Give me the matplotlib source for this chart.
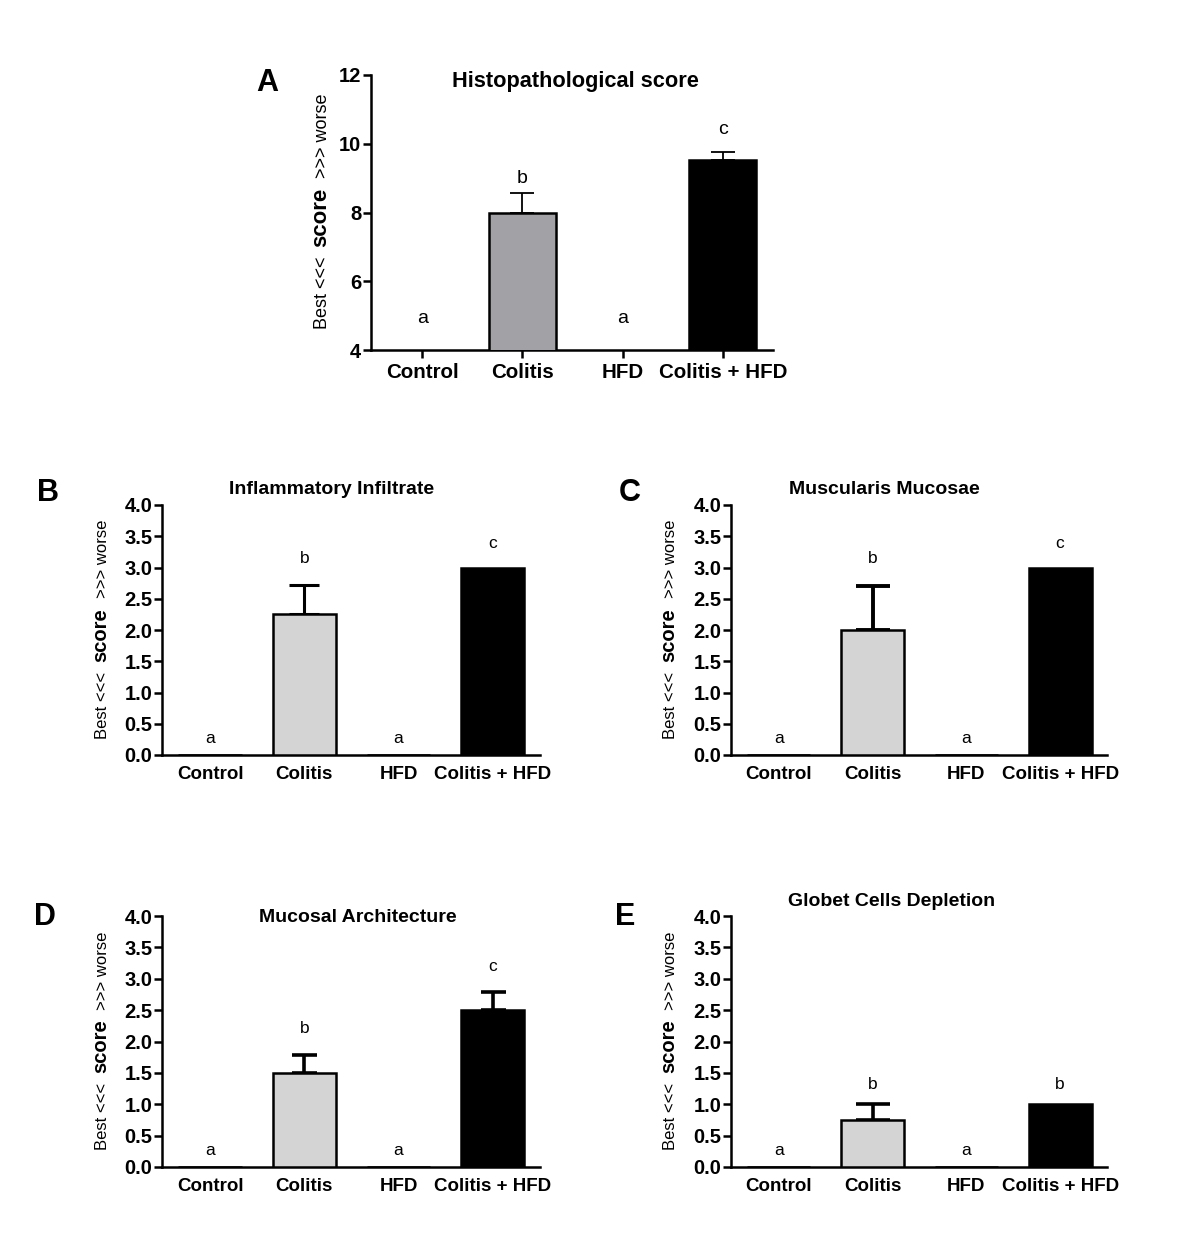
import matplotlib
matplotlib.use('Agg')
import matplotlib.pyplot as plt
import numpy as np

plt.rcParams['font.family'] = ['Liberation Sans', 'DejaVu Sans']

W, H = 1200, 1240

groups = ['Control', 'Colitis', 'HFD', 'Colitis + HFD']

# A - Histopathological score
hist_mean = [0, 8.0, 0, 9.52]
hist_sem = [0, 0.57, 0, 0.25]
hist_letters = ['a', 'b', 'a', 'c']
hist_letter_y = [4.93, 9.0, 4.93, 10.4]

# B - Inflammatory Infiltrate
infl_mean = [0, 2.25, 0, 3.0]
infl_sem = [0, 0.47, 0, 0]
infl_letters = ['a', 'b', 'a', 'c']
infl_letter_y = [0.27, 3.15, 0.27, 3.39]

# C - Muscularis Mucosae
musc_mean = [0, 2.0, 0, 3.0]
musc_sem = [0, 0.71, 0, 0]
musc_letters = ['a', 'b', 'a', 'c']
musc_letter_y = [0.27, 3.15, 0.27, 3.39]

# D - Mucosal Architecture
arch_mean = [0, 1.5, 0, 2.5]
arch_sem = [0, 0.28, 0, 0.29]
arch_letters = ['a', 'b', 'a', 'c']
arch_letter_y = [0.27, 2.21, 0.27, 3.19]

# E - Globet Cells Depletion
glob_mean = [0, 0.75, 0, 1.0]
glob_sem = [0, 0.25, 0, 0]
glob_letters = ['a', 'b', 'a', 'b']
glob_letter_y = [0.27, 1.31, 0.27, 1.31]

fig = plt.figure(figsize=(12, 12.4), dpi=100)


def fx(px):
    return px / W


def fy(py):
    return 1 - py / H


def panel(box, mean, sem, letters, letter_y, title, title_xy, tag, tag_xy,
          colitis_color, ylim, yticks, yfmt, capsize, elw, xticks_on,
          tick_fs, xlab_fs, title_fs, letter_fs, score_x, lab_fs, score_fs):
    l, t, r, b = box
    ax = fig.add_axes([fx(l), fy(b), fx(r - l), (b - t) / H])
    x = np.arange(len(groups))
    colors = ['white', colitis_color, 'white', 'black']
    ax.bar(x, mean, width=0.67, color=colors, edgecolor='black', linewidth=1.8, zorder=3)
    sem = np.array(sem)
    m = sem > 0
    ax.errorbar(x[m], np.array(mean)[m], yerr=[np.zeros(m.sum()), sem[m]], fmt='none',
                ecolor='black', elinewidth=elw, capsize=capsize, capthick=elw, zorder=2)
    for xi, lab, ly in zip(x, letters, letter_y):
        ax.text(xi, ly, lab, ha='center', va='center', fontsize=letter_fs)
    ax.set_xlim(-0.51, 3.5)
    ax.set_ylim(*ylim)
    ax.set_yticks(yticks)
    ax.set_yticklabels([yfmt.format(v) for v in yticks], fontsize=tick_fs, fontweight='bold')
    ax.set_xticks(x)
    ax.set_xticklabels(groups, fontsize=xlab_fs, fontweight='bold')
    for s in ['top', 'right']:
        ax.spines[s].set_visible(False)
    for s in ['left', 'bottom']:
        ax.spines[s].set_linewidth(1.8)
    ax.tick_params(axis='y', length=6, width=1.8, pad=1)
    if xticks_on:
        ax.tick_params(axis='x', length=6, width=1.8, pad=3)
    else:
        ax.tick_params(axis='x', length=0, pad=8)

    fig.text(fx(title_xy[0]), fy(title_xy[1]), title, ha='center', va='center',
             fontsize=title_fs, fontweight='bold')
    fig.text(fx(tag_xy[0]), fy(tag_xy[1]), tag, ha='center', va='center',
             fontsize=22, fontweight='bold')

    # y label: Best <<<  score  >>> worse
    cy = (t + b) / 2 + 5
    sc = fig.text(fx(score_x), fy(cy), 'score', rotation=90, ha='right', va='center',
                  fontsize=score_fs, fontweight='bold')
    ax.annotate('Best <<<', xy=(1, 0), xycoords=sc, xytext=(0, -7), textcoords='offset points',
                rotation=90, ha='right', va='top', fontsize=lab_fs)
    ax.annotate('>>> worse', xy=(1, 1), xycoords=sc, xytext=(0, 7), textcoords='offset points',
                rotation=90, ha='right', va='bottom', fontsize=lab_fs)
    return ax


small_ticks = [0, 0.5, 1.0, 1.5, 2.0, 2.5, 3.0, 3.5, 4.0]

panel((371, 75, 773, 350), hist_mean, hist_sem, hist_letters, hist_letter_y,
      'Histopathological score', (575, 82), 'A', (267, 83), '#a2a2a6',
      (4, 12), [4, 6, 8, 10, 12], '{:.0f}', 8.5, 1.3, True,
      14.5, 14.8, 15.7, 14, 331, 13, 16)
panel((162, 505, 540, 755), infl_mean, infl_sem, infl_letters, infl_letter_y,
      'Inflammatory Infiltrate', (332, 490), 'B', (48, 493), '#d4d4d4',
      (0, 4), small_ticks, '{:.1f}', 11, 2.2, False,
      14.5, 13.5, 14, 12.5, 110, 12, 14.5)
panel((731, 505, 1107, 755), musc_mean, musc_sem, musc_letters, musc_letter_y,
      'Muscularis Mucosae', (884, 490), 'C', (630, 493), '#d4d4d4',
      (0, 4), small_ticks, '{:.1f}', 12.5, 2.8, False,
      14.5, 13.5, 14, 12.5, 678, 12, 14.5)
panel((162, 916, 540, 1167), arch_mean, arch_sem, arch_letters, arch_letter_y,
      'Mucosal Architecture', (358, 918), 'D', (45, 917), '#d4d4d4',
      (0, 4), small_ticks, '{:.1f}', 9, 2.6, False,
      14.5, 13.5, 14, 12.5, 110, 12, 14.5)
panel((731, 916, 1107, 1167), glob_mean, glob_sem, glob_letters, glob_letter_y,
      'Globet Cells Depletion', (892, 902), 'E', (625, 917), '#d4d4d4',
      (0, 4), small_ticks, '{:.1f}', 12, 2.6, False,
      14.5, 13.5, 14, 12.5, 678, 12, 14.5)

fig.savefig('out.png', dpi=100, facecolor='white')
